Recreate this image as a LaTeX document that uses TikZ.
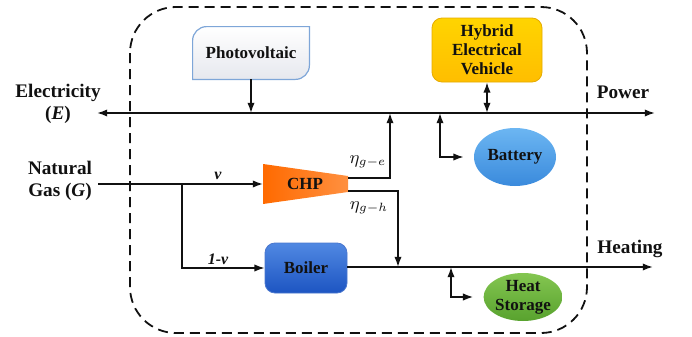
\documentclass[tikz,border=0pt]{standalone}
\usepackage{fontspec}
\setmainfont{Liberation Serif}
\usepackage{tikz}
\usetikzlibrary{arrows.meta,calc,positioning,shapes.geometric}
\definecolor{ink}{HTML}{111111}
\definecolor{pvedge}{HTML}{7EA6D8}
\definecolor{pvbot}{HTML}{E6E8EE}
\definecolor{hevtop}{HTML}{FFD400}
\definecolor{hevbot}{HTML}{FFBE00}
\definecolor{chpleft}{HTML}{FF6A00}
\definecolor{chpright}{HTML}{FF9040}
\definecolor{boiltop}{HTML}{5088E2}
\definecolor{boilbot}{HTML}{1D55C2}
\definecolor{batttop}{HTML}{6CB6F2}
\definecolor{battbot}{HTML}{3A8ADC}
\definecolor{heattop}{HTML}{84C651}
\definecolor{heatbot}{HTML}{58A22E}
\tikzset{
  flowarr/.style={-{Latex[length=1.8mm,width=1.3mm]},line width=0.75pt,color=ink},
  busarr/.style={{Latex[length=1.8mm,width=1.3mm]}-{Latex[length=1.8mm,width=1.3mm]},line width=0.9pt,color=ink},
  dashframe/.style={draw=ink,line width=0.9pt,dash pattern=on 5pt off 3pt,rounded corners=23pt},
  boxfont/.style={font=\fontsize{8.5}{9.5}\selectfont\bfseries,align=center,text=ink},
  outlbl/.style={font=\fontsize{9.6}{11}\selectfont\bfseries,align=center,text=ink},
  flowlbl/.style={font=\fontsize{8}{9}\selectfont\bfseries\itshape,text=ink},
  etalbl/.style={font=\small,text=ink},
  pvcard/.style={boxfont,minimum width=58pt,minimum height=26pt,inner sep=0pt},
  hevcard/.style={boxfont,draw=hevbot!90!black,top color=hevtop,bottom color=hevbot,rounded corners=5pt,minimum width=55pt,minimum height=32pt,inner sep=0pt},
  boilcard/.style={boxfont,draw=boilbot!80!white,top color=boiltop,bottom color=boilbot,rounded corners=5pt,minimum width=41pt,minimum height=25pt,inner sep=0pt},
  battcard/.style={boxfont,ellipse,top color=batttop,bottom color=battbot,minimum width=41pt,minimum height=29pt,inner sep=0pt},
  heatcard/.style={boxfont,ellipse,top color=heattop,bottom color=heatbot,minimum width=39pt,minimum height=24pt,inner sep=0pt}
}
\begin{document}
\begin{tikzpicture}[x=0.5pt,y=-0.5pt]
  \useasboundingbox (0,0) rectangle (692,337);
  \draw[dashframe] (130,7) rectangle (587,333);
  % outside labels
  \node[outlbl] (elec) at (58,104) {Electricity\\(\textit{E})};
  \node[outlbl] (gas) at (60,181) {Natural\\Gas (\textit{G})};
  \node[outlbl] (power) at (623,92) {Power};
  \node[outlbl] (heat) at (630,249) {Heating};
  % components
  \node[pvcard] (pv) at (251,53) {Photovoltaic};
  \draw[draw=pvedge,line width=0.6pt,top color=white,bottom color=pvbot]
    (pv.south west) -- ([yshift=-7pt]pv.north west)
    arc[start angle=180,end angle=90,radius=7pt] -- (pv.north east)
    -- ([yshift=7pt]pv.south east)
    arc[start angle=0,end angle=-90,radius=7pt] -- cycle;
  \node[pvcard] at (pv) {Photovoltaic};
  \node[hevcard] (hev) at (487,50) {Hybrid\\Electrical\\Vehicle};
  \node[battcard] (batt) at (515,157) {Battery};
  \node[heatcard] (hs) at (523,297) {Heat\\Storage};
  \node[boilcard] (boil) at (306,268) {Boiler};
  \coordinate (chpnw) at (263,164);
  \coordinate (chpne) at (348,176);
  \coordinate (chpse) at (348,192);
  \coordinate (chpsw) at (263,204);
  \shade[left color=chpleft,right color=chpright] (chpnw) -- (chpne) -- (chpse) -- (chpsw) -- cycle;
  \node[boxfont] (chp) at (305,184) {CHP};
  % buses
  \coordinate (eL) at (97,113);
  \coordinate (eR) at (655,113);
  \draw[busarr] (eL) -- (eR);
  \coordinate (hR) at (653,267);
  \draw[flowarr,line width=0.9pt] (boil.east |- hR) -- (hR);
  % gas split
  \coordinate (gin) at (98,184);
  \coordinate (split) at (182,184);
  \draw[line width=0.75pt,color=ink] (gin) -- (split);
  \draw[flowarr] (split) -- (chpnw |- split);
  \draw[flowarr] (split) |- (boil.west);
  \node[flowlbl] (vlbl) at (218,176) {v};
  \node[flowlbl] (onevlbl) at (218,259) {1-v};
  % CHP outputs
  \coordinate (chpe) at (348,178);
  \coordinate (chph) at (348,191);
  \draw[flowarr] (chpe) -| ($(eL)!0.5!(eR)+(14,0)$);
  \draw[flowarr] (chph) -| (398,267);
  \node[etalbl] (etae) at (368,162) {$\eta_{g-e}$};
  \node[etalbl] (etah) at (369,208) {$\eta_{g-h}$};
  % sources and storage
  \draw[flowarr] (pv.south) -- (pv.south |- eL);
  \draw[busarr,line width=0.75pt] (hev.south) -- (hev.south |- eL);
  \coordinate (btap) at (440,113);
  \draw[busarr,line width=0.75pt,shorten >=5pt] (btap) |- (batt.west);
  \coordinate (htap) at (451,267);
  \draw[busarr,line width=0.75pt,shorten >=5pt] (htap) |- (hs.west);
\end{tikzpicture}
\end{document}
